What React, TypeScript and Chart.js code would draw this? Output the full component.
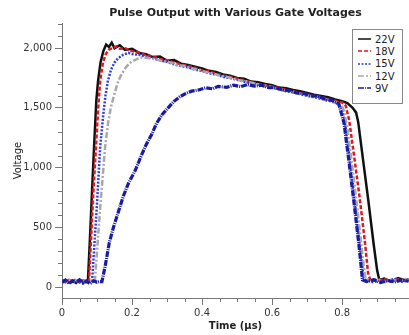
import React, { useEffect, useRef } from 'react';
import { Chart, registerables } from 'chart.js';

Chart.register(...registerables);

// ---- data ----
const seriesLabels = ['22V', '18V', '15V', '12V', '9V'];

const t22 = [0, 0.01, 0.02, 0.03, 0.04, 0.05, 0.06, 0.07, 0.074, 0.08, 0.086, 0.092, 0.098, 0.103, 0.11, 0.118, 0.126, 0.134, 0.142, 0.15, 0.165, 0.18, 0.2, 0.22, 0.24, 0.26, 0.28, 0.3, 0.32, 0.34, 0.36, 0.38, 0.4, 0.42, 0.44, 0.46, 0.48, 0.5, 0.52, 0.54, 0.56, 0.58, 0.6, 0.62, 0.64, 0.66, 0.68, 0.7, 0.72, 0.74, 0.76, 0.78, 0.8, 0.815, 0.83, 0.84, 0.846, 0.86, 0.875, 0.89, 0.9, 0.906, 0.92, 0.94, 0.96, 0.98, 0.99];
const v22 = [48, 62, 40, 55, 35, 58, 45, 52, 50, 420, 820, 1200, 1560, 1725, 1880, 1975, 2030, 2010, 2045, 2000, 2025, 1985, 1995, 1960, 1950, 1925, 1930, 1895, 1900, 1870, 1860, 1845, 1830, 1810, 1800, 1780, 1770, 1750, 1745, 1720, 1715, 1700, 1690, 1670, 1665, 1650, 1640, 1625, 1610, 1600, 1590, 1570, 1555, 1540, 1500, 1460, 1380, 1060, 720, 360, 140, 60, 70, 45, 75, 55, 65];

const t18 = [0, 0.01, 0.02, 0.03, 0.04, 0.05, 0.06, 0.07, 0.077, 0.083, 0.09, 0.097, 0.103, 0.109, 0.117, 0.125, 0.135, 0.145, 0.155, 0.165, 0.18, 0.2, 0.22, 0.24, 0.26, 0.28, 0.3, 0.32, 0.34, 0.36, 0.38, 0.4, 0.42, 0.44, 0.46, 0.48, 0.5, 0.52, 0.54, 0.56, 0.58, 0.6, 0.62, 0.64, 0.66, 0.68, 0.7, 0.72, 0.74, 0.76, 0.78, 0.8, 0.81, 0.82, 0.835, 0.85, 0.865, 0.874, 0.88, 0.9, 0.92, 0.94, 0.96, 0.98, 0.99];
const v18 = [55, 40, 60, 45, 65, 38, 55, 48, 50, 400, 820, 1170, 1480, 1725, 1880, 1950, 1990, 2000, 2015, 1995, 2000, 1975, 1965, 1940, 1930, 1910, 1900, 1880, 1865, 1850, 1835, 1815, 1805, 1785, 1770, 1760, 1745, 1730, 1715, 1700, 1690, 1680, 1665, 1650, 1640, 1625, 1615, 1600, 1590, 1575, 1560, 1545, 1520, 1400, 1080, 750, 380, 120, 60, 50, 70, 45, 65, 50, 60];

const t15 = [0, 0.01, 0.02, 0.03, 0.04, 0.05, 0.06, 0.07, 0.08, 0.086, 0.092, 0.1, 0.109, 0.117, 0.124, 0.131, 0.14, 0.15, 0.16, 0.175, 0.19, 0.2, 0.22, 0.24, 0.26, 0.28, 0.3, 0.32, 0.34, 0.36, 0.38, 0.4, 0.42, 0.44, 0.46, 0.48, 0.5, 0.52, 0.54, 0.56, 0.58, 0.6, 0.62, 0.64, 0.66, 0.68, 0.7, 0.72, 0.74, 0.76, 0.78, 0.79, 0.8, 0.81, 0.825, 0.84, 0.855, 0.862, 0.87, 0.89, 0.91, 0.93, 0.95, 0.97, 0.99];
const v15 = [42, 58, 36, 60, 44, 52, 30, 56, 46, 50, 330, 700, 1170, 1420, 1600, 1725, 1820, 1880, 1915, 1945, 1960, 1950, 1945, 1930, 1915, 1900, 1885, 1865, 1850, 1840, 1820, 1810, 1790, 1780, 1760, 1750, 1735, 1720, 1705, 1695, 1680, 1670, 1655, 1640, 1630, 1615, 1600, 1590, 1575, 1560, 1545, 1530, 1500, 1340, 1000, 620, 230, 70, 55, 40, 62, 48, 70, 44, 58];

const t12 = [0, 0.01, 0.02, 0.03, 0.04, 0.05, 0.06, 0.07, 0.08, 0.088, 0.094, 0.1, 0.11, 0.123, 0.132, 0.14, 0.15, 0.16, 0.17, 0.18, 0.19, 0.2, 0.215, 0.23, 0.25, 0.27, 0.29, 0.31, 0.33, 0.35, 0.37, 0.39, 0.41, 0.43, 0.45, 0.47, 0.49, 0.51, 0.53, 0.55, 0.57, 0.59, 0.61, 0.63, 0.65, 0.67, 0.69, 0.71, 0.73, 0.75, 0.77, 0.79, 0.8, 0.805, 0.815, 0.83, 0.845, 0.86, 0.867, 0.88, 0.9, 0.92, 0.94, 0.96, 0.98, 0.99];
const v12 = [50, 38, 58, 42, 55, 48, 62, 40, 52, 45, 50, 300, 700, 1170, 1380, 1510, 1620, 1720, 1780, 1830, 1865, 1890, 1910, 1925, 1915, 1905, 1890, 1880, 1860, 1850, 1830, 1820, 1800, 1790, 1770, 1760, 1745, 1730, 1720, 1705, 1690, 1680, 1665, 1655, 1640, 1625, 1615, 1600, 1590, 1575, 1560, 1540, 1510, 1480, 1330, 990, 620, 220, 70, 55, 68, 42, 60, 50, 66, 52];

const t9 = [0, 0.01, 0.02, 0.03, 0.04, 0.05, 0.06, 0.07, 0.08, 0.09, 0.1, 0.108, 0.114, 0.123, 0.135, 0.147, 0.16, 0.175, 0.19, 0.209, 0.225, 0.24, 0.257, 0.27, 0.285, 0.303, 0.32, 0.335, 0.351, 0.37, 0.39, 0.41, 0.43, 0.446, 0.47, 0.49, 0.51, 0.53, 0.55, 0.57, 0.59, 0.61, 0.63, 0.65, 0.67, 0.69, 0.71, 0.73, 0.75, 0.77, 0.79, 0.805, 0.82, 0.835, 0.85, 0.858, 0.87, 0.89, 0.91, 0.93, 0.95, 0.97, 0.99];
const v9 = [40, 55, 30, 50, 38, 60, 35, 48, 28, 52, 40, 46, 45, 170, 370, 500, 620, 760, 870, 975, 1090, 1190, 1283, 1370, 1440, 1500, 1555, 1590, 1617, 1640, 1650, 1668, 1660, 1680, 1672, 1690, 1678, 1695, 1682, 1690, 1670, 1668, 1650, 1645, 1625, 1622, 1600, 1598, 1575, 1565, 1535, 1380, 1040, 680, 300, 60, 45, 62, 38, 55, 42, 60, 48];

const xTickValues = [0, 0.2, 0.4, 0.6, 0.8];
const xTickLabels = ['0', '0.2', '0.4', '0.6', '0.8'];
const yTickValues = [0, 500, 1000, 1500, 2000];
const yTickLabels = ['0', '500', '1,000', '1,500', '2,000'];

const titleText = 'Pulse Output with Various Gate Voltages';
const xTitle = 'Time (µs)';
const yTitle = 'Voltage';

// ---- styles ----
const colors: Record<string, string> = {
  '22V': '#111111',
  '18V': '#e3161e',
  '15V': '#2a3de6',
  '12V': '#a9a9a9',
  '9V': '#1b1ba0',
};
const dashes: Record<string, number[]> = {
  '22V': [],
  '18V': [4, 2],
  '15V': [2, 1.5],
  '12V': [6, 2, 2, 2],
  '9V': [6, 1, 1, 1],
};
const axisColor = '#777777';
const FONT = '"DejaVu Sans", Verdana, sans-serif';

const seriesData: Record<string, [number[], number[]]> = {
  '22V': [t22, v22],
  '18V': [t18, v18],
  '15V': [t15, v15],
  '12V': [t12, v12],
  '9V': [t9, v9],
};

// draw order: first is on top
const drawOrder = ['9V', '12V', '15V', '18V', '22V'];

const minorTicksPlugin = {
  id: 'minorTicks',
  afterDraw(chart: any) {
    const { ctx, chartArea, scales } = chart;
    const xs = scales.x;
    const ys = scales.y;
    ctx.save();
    ctx.strokeStyle = axisColor;
    ctx.lineWidth = 1;
    ctx.beginPath();
    for (let i = 1; i * 0.05 <= xs.max + 1e-9; i++) {
      const v = i * 0.05;
      if (xTickValues.some((m) => Math.abs(m - v) < 1e-6)) continue;
      const px = Math.round(xs.getPixelForValue(v)) + 0.5;
      ctx.moveTo(px, chartArea.bottom);
      ctx.lineTo(px, chartArea.bottom + 4);
    }
    for (let i = Math.ceil(ys.min / 100); i * 100 <= ys.max; i++) {
      const v = i * 100;
      if (yTickValues.includes(v)) continue;
      const py = Math.round(ys.getPixelForValue(v)) + 0.5;
      ctx.moveTo(chartArea.left - 4, py);
      ctx.lineTo(chartArea.left, py);
    }
    ctx.stroke();
    ctx.restore();
  },
};

export default function App() {
  const ref = useRef<HTMLCanvasElement>(null);

  useEffect(() => {
    if (!ref.current) return;
    const datasets = drawOrder.map((name) => {
      const [ts, vs] = seriesData[name];
      return {
        label: name,
        data: ts.map((t, i) => ({ x: t, y: vs[i] })),
        borderColor: colors[name],
        backgroundColor: colors[name],
        borderWidth: name === '9V' ? 3.2 : 2.5,
        borderDash: dashes[name],
        pointRadius: 0,
        tension: 0,
        fill: false,
      };
    });
    const chart = new Chart(ref.current, {
      type: 'line',
      data: { datasets },
      plugins: [minorTicksPlugin],
      options: {
        animation: false,
        responsive: false,
        layout: { padding: 0 },
        plugins: {
          legend: { display: false },
          tooltip: { enabled: false },
          title: {
            display: true,
            text: titleText,
            fullSize: false,
            color: '#222',
            font: { family: FONT, size: 11, weight: 'bold', lineHeight: 1.2 },
            padding: { top: 7, bottom: 3 },
          },
        },
        scales: {
          x: {
            type: 'linear',
            min: 0,
            max: 0.991,
            afterBuildTicks: (scale: any) => {
              scale.ticks = xTickValues.map((v) => ({ value: v }));
            },
            afterFit: (scale: any) => {
              scale.height = 37;
            },
            ticks: {
              autoSkip: false,
              maxRotation: 0,
              padding: 2,
              color: '#333',
              font: { family: FONT, size: 10 },
              callback: (_v: any, i: number) => xTickLabels[i],
            },
            grid: {
              display: true,
              drawOnChartArea: false,
              drawTicks: true,
              tickLength: 7,
              color: axisColor,
            },
            border: { display: true, color: axisColor, width: 1 },
            title: {
              display: true,
              text: xTitle,
              color: '#222',
              font: { family: FONT, size: 10, weight: 'bold', lineHeight: 1.2 },
              padding: { top: 0, bottom: 3 },
            },
          },
          y: {
            type: 'linear',
            min: -92,
            max: 2209,
            afterBuildTicks: (scale: any) => {
              scale.ticks = yTickValues.map((v) => ({ value: v }));
            },
            afterFit: (scale: any) => {
              scale.width = 62;
            },
            ticks: {
              autoSkip: false,
              padding: 3,
              color: '#333',
              font: { family: FONT, size: 10 },
              callback: (_v: any, i: number) => yTickLabels[i],
            },
            grid: {
              display: true,
              drawOnChartArea: false,
              drawTicks: true,
              tickLength: 7,
              color: axisColor,
            },
            border: { display: true, color: axisColor, width: 1 },
            title: {
              display: true,
              text: yTitle,
              color: '#222',
              font: { family: FONT, size: 10, lineHeight: 1.2 },
              padding: { top: 12, bottom: 0 },
            },
          },
        },
      } as any,
    });
    return () => chart.destroy();
  }, []);

  return (
    <div style={{ position: 'absolute', left: 0, top: 0, width: 409, height: 335, background: '#fff' }}>
      <canvas ref={ref} width={409} height={335} style={{ display: 'block' }} />
      <div
        style={{
          position: 'absolute',
          left: 352,
          top: 29,
          width: 49,
          height: 70,
          border: '1px solid #888',
          background: '#fff',
          paddingTop: 3,
          boxSizing: 'content-box',
        }}
      >
        {seriesLabels.map((name) => (
          <div
            key={name}
            style={{ display: 'flex', alignItems: 'center', height: 12.3, fontFamily: FONT, fontSize: 10, color: '#222' }}
          >
            <svg width={13} height={4} style={{ marginLeft: 5, marginRight: 4 }}>
              <line
                x1={0}
                y1={2}
                x2={13}
                y2={2}
                stroke={colors[name]}
                strokeWidth={1.5}
                strokeDasharray={dashes[name].length ? dashes[name].join(' ') : undefined}
              />
            </svg>
            <span>{name}</span>
          </div>
        ))}
      </div>
    </div>
  );
}
